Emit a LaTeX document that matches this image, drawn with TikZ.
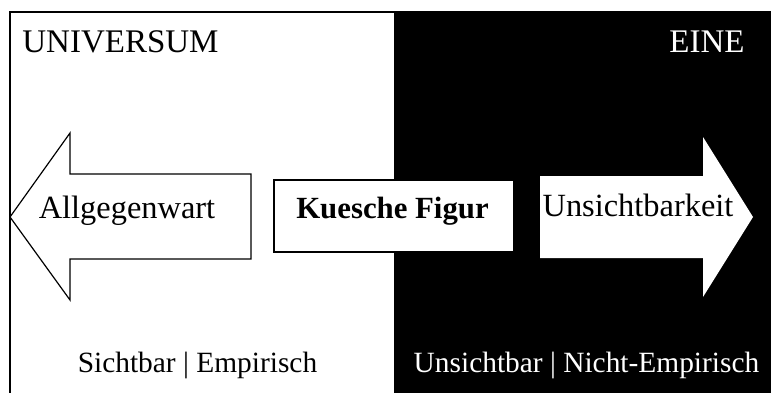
\documentclass[tikz,border=0pt]{standalone}
\usepackage{fontspec}
\setmainfont{Liberation Serif}
\usepackage{tikz}

\tikzset{
  label text/.style={inner sep=0pt, font=\fontsize{16.2}{19}\selectfont},
  title text/.style={inner sep=0pt, font=\fontsize{16.5}{19}\selectfont},
  foot text/.style={inner sep=0pt, font=\fontsize{14.7}{18}\selectfont}
}

\begin{document}
\begin{tikzpicture}[x=0.5pt,y=-0.5pt]
        \useasboundingbox (0,0) rectangle (771,392);
        % the two halves
        \fill[black] (394,12) rectangle (772,393);
        \draw[line width=0.6pt] (10,393) -- (10,12) -- (772,12);
        % arrows
        \draw[line width=0.6pt, fill=white] (10,217) -- (70,133) -- (70,174) -- (251,174)
            -- (251,259) -- (70,259) -- (70,300) -- cycle;
        \fill[white] (753,217) -- (703,137) -- (703,176) -- (540,176)
            -- (540,258) -- (703,258) -- (703,297) -- cycle;
        \draw[line width=0.6pt, fill=white] (274,180) rectangle (514,252);
        % texts
        \node[title text, anchor=base west] (universum) at (22,52) {UNIVERSUM};
        \node[title text, text=white, anchor=base east] (eine) at (745,52) {EINE};
        \node[label text, anchor=base] (allgegenwart) at (127,218) {Allgegenwart};
        \node[label text, font=\fontsize{15.4}{18}\selectfont\bfseries, anchor=base] (figur) at (392.5,218) {Kuesche Figur};
        \node[label text, anchor=base] (unsichtbarkeit) at (638,216) {Unsichtbarkeit};
        \node[foot text, anchor=base] (sichtbar) at (197.5,372) {Sichtbar | Empirisch};
        \node[foot text, text=white, anchor=base] (unsichtbar) at (586.5,372) {Unsichtbar | Nicht-Empirisch};
\end{tikzpicture}
\end{document}
